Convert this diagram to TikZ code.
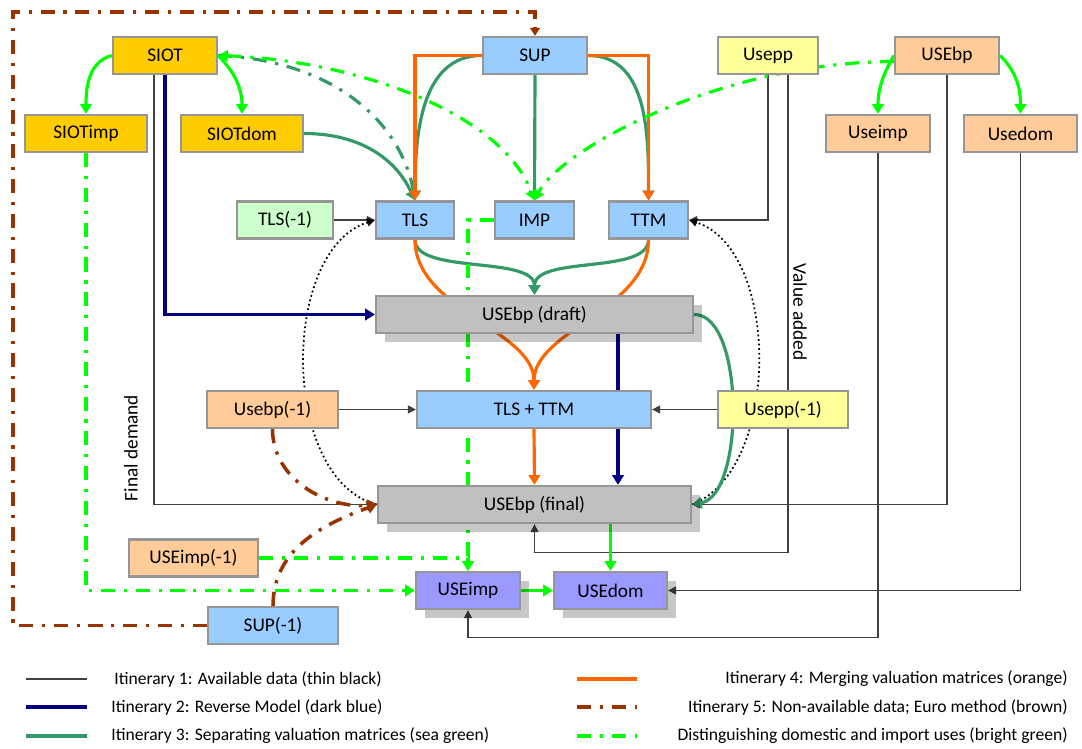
\documentclass[tikz,border=0pt]{standalone}
\usepackage{fontspec}
\setmainfont{Carlito}
\usetikzlibrary{calc, arrows.meta, shadows}

\definecolor{boxgold}{HTML}{FFCC00}
\definecolor{boxblue}{HTML}{99CCFF}
\definecolor{boxmint}{HTML}{CCFFCC}
\definecolor{boxyellow}{HTML}{FFFF99}
\definecolor{boxpeach}{HTML}{FFCC99}
\definecolor{boxgray}{HTML}{C0C0C0}
\definecolor{boxviolet}{HTML}{9999FF}
\definecolor{boxedge}{HTML}{969696}
\definecolor{itorange}{HTML}{FF6600}
\definecolor{itnavy}{HTML}{000080}
\definecolor{itsea}{HTML}{339966}
\definecolor{itbrown}{HTML}{993300}
\definecolor{itlime}{HTML}{00FF00}

\pgfdeclarelayer{background}
\pgfsetlayers{background,main}

\begin{document}
\begin{tikzpicture}[x=0.02cm, y=-0.02cm,
    >={Triangle[length=5.5pt, width=6.5pt]},
    mat/.style={draw=boxedge, line width=1.3pt, minimum height=0.74cm, inner sep=0pt, font=\fontsize{11}{13}\selectfont},
    boxshadow/.style={drop shadow={shadow xshift=0.18cm, shadow yshift=-0.18cm, fill=black, opacity=0.22}},
    sidelabel/.style={font=\fontsize{11}{13}\selectfont, inner sep=0pt},
    legtext/.style={font=\fontsize{10}{12}\selectfont, inner sep=0pt},
    thinline/.style={black!75, line width=0.6pt},
    thintip/.style={-{Triangle[length=4.5pt, width=4.5pt]}},
    dotline/.style={black, line width=1pt, dash pattern=on 1pt off 1.6pt},
    dashdot/.style={dash pattern=on 8pt off 5pt on 1.8pt off 5pt},
    itin2/.style={itnavy, line width=1.8pt},
    itin3/.style={itsea, line width=1.8pt},
    itin4/.style={itorange, line width=1.8pt},
    itin5/.style={itbrown, line width=2pt, dashdot},
    domimp/.style={itlime, line width=1.8pt},
    itin6/.style={domimp, dashdot},
]
    \useasboundingbox (0,0) rectangle (1082,749);

    % matrices, top rows
    \node [mat, fill=boxgold, minimum width=2.08cm] (siot) at (165,55.5) {SIOT};
    \node [mat, fill=boxgold, minimum width=2.44cm] (siotimp) at (86,133.5) {SIOTimp};
    \node [mat, fill=boxgold, minimum width=2.44cm] (siotdom) at (242,133.5) {SIOTdom};
    \node [mat, fill=boxblue, minimum width=2.08cm] (sup) at (535,55.5) {SUP};
    \node [mat, fill=boxyellow, minimum width=2cm] (usepp) at (768,55.5) {Usepp};
    \node [mat, fill=boxpeach, minimum width=2.08cm] (usebp) at (947,55.5) {USEbp};
    \node [mat, fill=boxpeach, minimum width=2.08cm] (useimp) at (878,133.5) {Useimp};
    \node [mat, fill=boxpeach, minimum width=2.26cm] (usedom) at (1020.5,133.5) {Usedom};
    \node [mat, fill=boxmint, minimum width=1.92cm] (tlsprev) at (285,220) {TLS(-1)};
    \node [mat, fill=boxblue, minimum width=1.56cm] (tls) at (415,220) {TLS};
    \node [mat, fill=boxblue, minimum width=1.58cm] (imp) at (534.5,220) {IMP};
    \node [mat, fill=boxblue, minimum width=1.58cm] (ttm) at (648.5,220) {TTM};
    % use tables
    \node [mat, boxshadow, fill=boxgray, minimum width=6.34cm] (draft) at (534.5,314.5) {USEbp (draft)};
    \node [mat, fill=boxblue, minimum width=4.68cm] (tlsttm) at (534,409.5) {TLS + TTM};
    \node [mat, fill=boxpeach, minimum width=2.62cm] (usebpprev) at (272.5,409.5) {Usebp(-1)};
    \node [mat, fill=boxyellow, minimum width=2.6cm] (useppprev) at (783,409.5) {Usepp(-1)};
    \node [mat, boxshadow, fill=boxgray, minimum width=6.26cm] (final) at (534.5,504.5) {USEbp (final)};
    \node [mat, fill=boxpeach, minimum width=2.58cm] (useimpprev) at (193.5,558) {USEimp(-1)};
    \node [mat, fill=boxblue, minimum width=2.6cm] (supprev) at (273,625.5) {SUP(-1)};
    \node [mat, boxshadow, fill=boxviolet, minimum width=2.08cm] (useimpfin) at (468,590.5) {USEimp};
    \node [mat, boxshadow, fill=boxviolet, minimum width=2.26cm] (usedomfin) at (610.5,590.5) {USEdom};

    \node [sidelabel, rotate=90] (findem) at (131,448) {Final demand};
    \node [sidelabel, rotate=-90] (valadd) at (800,312) {Value added};

    \begin{pgfonlayer}{background}
    % itinerary 1
    \draw [thinline, thintip] ($(siot.south)+(-11,0)$) |- (final.west);
    \draw [thinline, thintip] (tlsprev.east) -- (tls.west);
    \draw [thinline, thintip] (usepp.south) |- (ttm.east);
    \draw [thinline, thintip] ($(usepp.south)+(20,0)$) -- ++(0,477) -| (final.south);
    \draw [thinline, thintip] (usebp.south) |- (final.east);
    \draw [thinline, thintip] (useimp.south) -- ++(0,484) -| (useimpfin.south);
    \draw [thinline, thintip] (usedom.south) |- (usedomfin.east);
    \draw [thinline, thintip] (usebpprev.east) -- (tlsttm.west);
    \draw [thinline, thintip] (useppprev.west) -- (tlsttm.east);
    \draw [dotline, thintip] (final.west) .. controls (280,480) and (280,250) .. (tls.west);
    \draw [dotline, thintip] (final.east) .. controls (781,470) and (781,250) .. (ttm.east);
    % itinerary 2
    \draw [itin2, ->] (siot.south) |- (draft.west);
    \draw [itin2, ->] ($(draft.south)+(83.5,0)$) -- ($(final.north)+(83.5,0)$);
    % itinerary 3
    \draw [itin3, ->] (sup.west) to[out=180, in=90] (tls.north);
    \draw [itin3, ->] (sup.south) -- (imp.north);
    \draw [itin3, ->] (sup.east) to[out=0, in=90] (ttm.north);
    \draw [itin3, ->] (siotdom.east) to[out=0, in=115] (tls.north);
    \draw [itin3, dashdot] (siot.east) .. controls (330,60) and (405,120) .. (tls.north);
    \draw [itin3, ->] (tls.south) .. controls (415,275) and (534.5,255) .. (draft.north);
    \draw [itin3, ->] (ttm.south) .. controls (648.5,275) and (534.5,255) .. (draft.north);
    \draw [itin3, ->] (draft.east) .. controls (745,314) and (745,495) .. (final.east);
    % itinerary 4
    \draw [itin4, ->] (sup.west) -| (tls.north);
    \draw [itin4, ->] (sup.east) -| (ttm.north);
    \draw [itin4, ->] (tls.south) .. controls (415,310) and (534,330) .. (tlsttm.north);
    \draw [itin4, ->] (ttm.south) .. controls (648.5,310) and (534,330) .. (tlsttm.north);
    \draw [itin4, ->] (tlsttm.south) -- (final.north);
    % itinerary 5
    \coordinate (loopNW) at (13,12);
    \draw [itin5, -{Triangle[length=4.5pt, width=5.5pt]}] (supprev.west) -| (loopNW) -| (sup.north);
    \draw [itin5, ->] (supprev.north) to[out=90, in=200] (final.west);
    \draw [itin5, ->] (usebpprev.south) to[out=-90, in=185] (final.west);
    % domestic / imports
    \draw [domimp, ->] (siot.west) to[out=195, in=90] (siotimp.north);
    \draw [domimp, ->] (siot.east) to[out=-45, in=90] (siotdom.north);
    \draw [domimp, ->] (usebp.west) to[out=240, in=90] (useimp.north);
    \draw [domimp, ->] (usebp.east) to[out=-45, in=90] (usedom.north);
    \draw [domimp, ->] (final.south -| usedomfin.north) -- (usedomfin.north);
    \draw [domimp, ->] (useimpfin.east) -- (usedomfin.west);
    \draw [itin6, ->] (siotimp.south) |- (useimpfin.west);
    \draw [itin6, ->] (useimpprev.east) -| (useimpfin.north);
    \draw [itin6, ->] (imp.west) -| (useimpfin.north);
    \draw [itin6, <->] (siot.east) .. controls (350,60) and (500,110) .. (imp.north);
    \draw [itin6, ->] ($(usebp.west)+(0,6)$) .. controls (720,62) and (560,150) .. (imp.north);
    \end{pgfonlayer}

    % legend
    \draw [thinline] (26,679) -- (87,679);
    \draw [itin2] (26,707) -- (87,707);
    \draw [itin3] (26,736) -- (87,736);
    \draw [itin4] (577,679) -- (637,679);
    \draw [itin5] (577,707) -- (637,707);
    \draw [itin6] (577,736) -- (637,736);
    \node [legtext, anchor=west] (leg1) at (114,679) {Itinerary 1: Available data (thin black)};
    \node [legtext, anchor=west] (leg2) at (111,707) {Itinerary 2: Reverse Model (dark blue)};
    \node [legtext, anchor=west] (leg3) at (111,736) {Itinerary 3: Separating valuation matrices (sea green)};
    \node [legtext, anchor=east] (leg4) at (1068,679) {Itinerary 4: Merging valuation matrices (orange)};
    \node [legtext, anchor=east] (leg5) at (1068,707) {Itinerary 5: Non-available data; Euro method (brown)};
    \node [legtext, anchor=east] (leg6) at (1068,736) {Distinguishing domestic and import uses (bright green)};
\end{tikzpicture}
\end{document}
